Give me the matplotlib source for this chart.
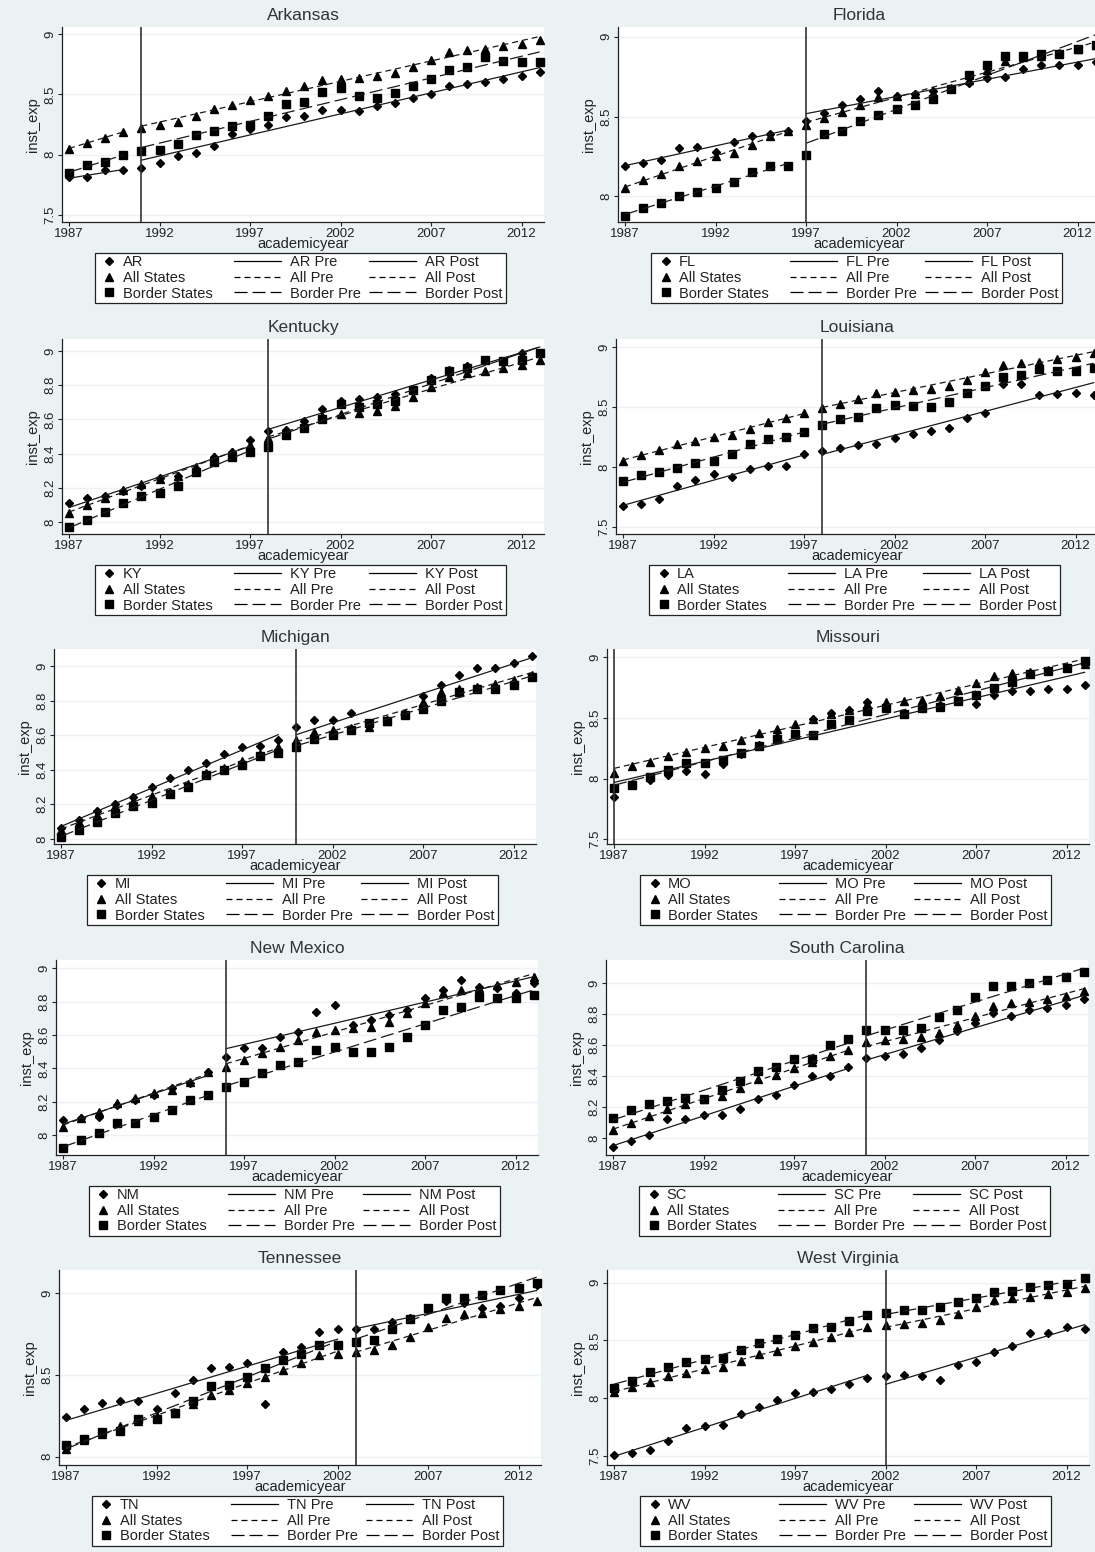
import numpy as np
import matplotlib
matplotlib.use("Agg")
import matplotlib.pyplot as plt
from matplotlib.lines import Line2D
from matplotlib.patches import Rectangle

plt.rcParams["font.family"] = ["Liberation Sans", "DejaVu Sans"]
plt.rcParams["lines.scale_dashes"] = False

# data (log instructional expenditure)
years = list(range(1987, 2014))
all_states = [8.05, 8.10, 8.14, 8.19, 8.22, 8.25, 8.27, 8.32, 8.38, 8.41, 8.45, 8.49, 8.53, 8.57,
              8.62, 8.63, 8.64, 8.65, 8.68, 8.73, 8.79, 8.85, 8.87, 8.88, 8.90, 8.92, 8.95]

ar_state = [7.81, 7.81, 7.87, 7.87, 7.89, 7.93, 7.99, 8.01, 8.07, 8.17, 8.21, 8.25, 8.31, 8.32,
            8.37, 8.37, 8.36, 8.40, 8.43, 8.47, 8.50, 8.57, 8.59, 8.60, 8.63, 8.65, 8.69]
ar_border = [7.85, 7.91, 7.94, 8.00, 8.03, 8.04, 8.09, 8.16, 8.20, 8.24, 8.25, 8.32, 8.42, 8.44,
             8.52, 8.55, 8.49, 8.47, 8.51, 8.57, 8.63, 8.70, 8.73, 8.81, 8.78, 8.77, 8.77]
fl_state = [8.19, 8.21, 8.23, 8.30, 8.31, 8.28, 8.34, 8.38, 8.39, 8.41, 8.47, 8.52, 8.57, 8.61,
            8.66, 8.63, 8.64, 8.66, 8.67, 8.71, 8.74, 8.75, 8.80, 8.82, 8.82, 8.82, 8.84]
fl_border = [7.88, 7.93, 7.96, 8.00, 8.03, 8.05, 8.09, 8.15, 8.19, 8.19, 8.26, 8.39, 8.41, 8.47,
             8.51, 8.55, 8.57, 8.61, 8.67, 8.76, 8.82, 8.88, 8.88, 8.89, 8.89, 8.92, 8.95]
ky_state = [8.11, 8.14, 8.15, 8.18, 8.21, 8.26, 8.27, 8.31, 8.38, 8.41, 8.48, 8.53, 8.54, 8.59,
            8.66, 8.71, 8.72, 8.73, 8.75, 8.78, 8.84, 8.89, 8.91, 8.95, 8.94, 8.99, 8.99]
ky_border = [7.97, 8.01, 8.06, 8.11, 8.15, 8.17, 8.21, 8.29, 8.35, 8.38, 8.41, 8.44, 8.51, 8.55,
             8.60, 8.69, 8.67, 8.69, 8.71, 8.77, 8.83, 8.88, 8.90, 8.95, 8.94, 8.95, 8.99]
la_state = [7.67, 7.69, 7.73, 7.84, 7.89, 7.94, 7.92, 7.98, 8.01, 8.01, 8.11, 8.13, 8.16, 8.18,
            8.19, 8.24, 8.28, 8.30, 8.33, 8.41, 8.45, 8.69, 8.69, 8.60, 8.61, 8.62, 8.60]
la_border = [7.88, 7.93, 7.96, 7.99, 8.03, 8.05, 8.11, 8.19, 8.23, 8.25, 8.29, 8.35, 8.40, 8.42,
             8.49, 8.52, 8.51, 8.50, 8.54, 8.62, 8.68, 8.75, 8.77, 8.82, 8.80, 8.80, 8.83]
mi_state = [8.06, 8.11, 8.16, 8.20, 8.24, 8.30, 8.35, 8.40, 8.44, 8.49, 8.53, 8.54, 8.57, 8.65,
            8.69, 8.69, 8.73, 8.67, 8.69, 8.72, 8.83, 8.89, 8.95, 8.99, 8.99, 9.02, 9.06]
mi_border = [8.01, 8.05, 8.10, 8.15, 8.19, 8.21, 8.26, 8.30, 8.37, 8.40, 8.43, 8.48, 8.50, 8.53,
             8.58, 8.60, 8.63, 8.67, 8.68, 8.72, 8.75, 8.80, 8.85, 8.87, 8.87, 8.89, 8.94]
mo_state = [7.85, 7.95, 7.99, 8.03, 8.06, 8.04, 8.12, 8.20, 8.28, 8.34, 8.37, 8.49, 8.54, 8.57,
            8.63, 8.59, 8.54, 8.58, 8.61, 8.64, 8.62, 8.69, 8.72, 8.72, 8.74, 8.74, 8.77]
mo_border = [7.92, 7.95, 8.01, 8.07, 8.13, 8.13, 8.15, 8.21, 8.27, 8.33, 8.37, 8.36, 8.45, 8.48,
             8.56, 8.58, 8.53, 8.58, 8.59, 8.64, 8.69, 8.75, 8.80, 8.86, 8.89, 8.91, 8.97]
nm_state = [8.09, 8.10, 8.11, 8.18, 8.21, 8.24, 8.28, 8.31, 8.38, 8.47, 8.52, 8.52, 8.59, 8.62,
            8.74, 8.78, 8.66, 8.69, 8.72, 8.75, 8.82, 8.87, 8.93, 8.89, 8.88, 8.85, 8.91]
nm_border = [7.92, 7.97, 8.01, 8.07, 8.07, 8.11, 8.15, 8.21, 8.24, 8.29, 8.32, 8.37, 8.42, 8.44,
             8.51, 8.53, 8.50, 8.50, 8.53, 8.59, 8.66, 8.75, 8.77, 8.83, 8.82, 8.82, 8.84]
sc_state = [7.94, 7.98, 8.02, 8.12, 8.12, 8.15, 8.15, 8.19, 8.25, 8.28, 8.34, 8.40, 8.40, 8.46,
            8.52, 8.53, 8.54, 8.58, 8.63, 8.69, 8.74, 8.81, 8.79, 8.83, 8.84, 8.86, 8.90]
sc_border = [8.13, 8.18, 8.22, 8.24, 8.26, 8.25, 8.31, 8.37, 8.43, 8.46, 8.51, 8.51, 8.60, 8.64,
             8.70, 8.70, 8.70, 8.71, 8.78, 8.83, 8.91, 8.98, 8.98, 9.00, 9.02, 9.04, 9.07]
tn_state = [8.24, 8.29, 8.33, 8.34, 8.34, 8.29, 8.39, 8.47, 8.54, 8.55, 8.57, 8.32, 8.64, 8.67,
            8.76, 8.78, 8.78, 8.78, 8.82, 8.85, 8.91, 8.95, 8.94, 8.91, 8.92, 8.97, 9.05]
tn_border = [8.07, 8.11, 8.15, 8.16, 8.23, 8.23, 8.27, 8.34, 8.43, 8.44, 8.49, 8.54, 8.59, 8.63,
             8.68, 8.68, 8.70, 8.71, 8.78, 8.84, 8.91, 8.97, 8.97, 8.99, 9.02, 9.03, 9.06]
wv_state = [7.51, 7.52, 7.55, 7.63, 7.74, 7.76, 7.77, 7.86, 7.92, 7.98, 8.04, 8.05, 8.08, 8.12,
            8.17, 8.19, 8.20, 8.19, 8.16, 8.29, 8.31, 8.40, 8.45, 8.56, 8.56, 8.62, 8.60]
wv_border = [8.09, 8.15, 8.23, 8.27, 8.31, 8.34, 8.35, 8.42, 8.48, 8.51, 8.55, 8.61, 8.62, 8.67,
             8.72, 8.74, 8.76, 8.76, 8.79, 8.83, 8.87, 8.92, 8.93, 8.96, 8.98, 8.99, 9.04]

titles = ["Arkansas", "Florida", "Kentucky", "Louisiana", "Michigan",
          "Missouri", "New Mexico", "South Carolina", "Tennessee", "West Virginia"]
abbrs = ["AR", "FL", "KY", "LA", "MI", "MO", "NM", "SC", "TN", "WV"]
break_years = [1991, 1997, 1998, 1998, 2000, 1987, 1996, 2001, 2003, 2002]
state_series = [ar_state, fl_state, ky_state, la_state, mi_state,
                mo_state, nm_state, sc_state, tn_state, wv_state]
border_series = [ar_border, fl_border, ky_border, la_border, mi_border,
                 mo_border, nm_border, sc_border, tn_border, wv_border]
yticks = [[7.5, 8, 8.5, 9], [8, 8.5, 9], [8, 8.2, 8.4, 8.6, 8.8, 9], [7.5, 8, 8.5, 9],
          [8, 8.2, 8.4, 8.6, 8.8, 9], [7.5, 8, 8.5, 9], [8, 8.2, 8.4, 8.6, 8.8, 9],
          [8, 8.2, 8.4, 8.6, 8.8, 9], [8, 8.5, 9], [7.5, 8, 8.5, 9]]
ylims = [(7.44, 9.06), (7.84, 9.06), (7.93, 9.07), (7.44, 9.07), (7.97, 9.10),
         (7.46, 9.07), (7.88, 9.05), (7.89, 9.15), (7.95, 9.14), (7.42, 9.11)]

# layout in pixels
W, H = 1095, 1552
BG = "#EAF2F3"
row_off = [0, 312, 622, 933, 1243]
plot_left = [62, 618, 62, 616, 54, 607, 56, 606, 59, 607]
plot_w, plot_h, plot_top = 482, 195, 27
xlim = (1986.61, 1986.61 + plot_w / 18.1)

DASH_ALL = (0, (4.3, 2.9))
DASH_BORDER = (0, (9.4, 3.6))
INK = "#222222"
LEG_FS = 10.5

fig = plt.figure(figsize=(W / 100, H / 100), dpi=100, facecolor=BG)
yrs = np.array(years)
legend_pairs = []

for i in range(10):
    off = row_off[i // 2]
    left = plot_left[i]
    ax = fig.add_axes([left / W, 1 - (off + plot_top + plot_h) / H, plot_w / W, plot_h / H])
    ax.set_facecolor("white")
    for s in ["top", "right"]:
        ax.spines[s].set_visible(False)
    for s in ["left", "bottom"]:
        ax.spines[s].set_color(INK)
        ax.spines[s].set_linewidth(0.9)

    series = [
        (np.array(state_series[i]), "D", 4.0, "-"),
        (np.array(all_states), "^", 5.6, DASH_ALL),
        (np.array(border_series[i]), "s", 5.6, DASH_BORDER),
    ]
    for vals, mk, ms, _ in series:
        ax.plot(yrs, vals, ls="none", marker=mk, ms=ms, color="black", clip_on=False, zorder=3)

    brk = break_years[i]
    pre = yrs < brk
    post = ~pre
    for vals, _, _, ls in series:
        for mask in (pre, post):
            if mask.sum() >= 2:
                coef = np.polyfit(yrs[mask], vals[mask], 1)
                ax.plot(yrs[mask], np.polyval(coef, yrs[mask]), color="#1a1a1a",
                        lw=0.9, linestyle=ls, zorder=4)

    ax.axvline(brk, color="#333333", lw=1.2, zorder=5)

    ax.set_xlim(*xlim)
    ax.set_ylim(*ylims[i])
    ax.set_xticks(range(1987, 2013, 5))
    ax.set_yticks(yticks[i])
    ax.set_yticklabels(["%g" % v for v in yticks[i]], rotation=90, va="center")
    ax.yaxis.grid(True, color=BG, lw=1.0)
    ax.set_axisbelow(True)
    ax.tick_params(axis="both", colors=INK, labelsize=9.5, length=3, width=0.8, pad=1)
    ax.set_xlabel("academicyear", fontsize=10.5, color=INK, labelpad=-2)
    ax.set_ylabel("inst_exp", fontsize=10.5, color=INK, labelpad=3)
    ax.set_title(titles[i], fontsize=12.5, color="#333333", pad=5)

    # legend: marker column + two line columns, framed together
    ab = abbrs[i]
    mk_handles = [
        Line2D([], [], ls="none", marker="D", ms=4.0, color="black"),
        Line2D([], [], ls="none", marker="^", ms=5.6, color="black"),
        Line2D([], [], ls="none", marker="s", ms=5.6, color="black"),
    ]
    ln_handles = [
        Line2D([], [], ls="-", lw=0.9, color="black"),
        Line2D([], [], ls=DASH_ALL, lw=0.9, color="black"),
        Line2D([], [], ls=DASH_BORDER, lw=0.9, color="black"),
        Line2D([], [], ls="-", lw=0.9, color="black"),
        Line2D([], [], ls=DASH_ALL, lw=0.9, color="black"),
        Line2D([], [], ls=DASH_BORDER, lw=0.9, color="black"),
    ]
    mk_labels = [ab, "All States", "Border States"]
    ln_labels = [ab + " Pre", "All Pre", "Border Pre", ab + " Post", "All Post", "Border Post"]
    common = dict(frameon=False, fontsize=LEG_FS, borderpad=0, borderaxespad=0,
                  labelspacing=0.12, numpoints=1)
    cx = left + plot_w / 2
    top = 1 - (off + 255) / H
    split = cx - 100
    leg_a = fig.legend(mk_handles, mk_labels, loc="upper right",
                       bbox_to_anchor=(split / W, top), handlelength=0.8,
                       handletextpad=0.5, **common)
    leg_b = fig.legend(ln_handles, ln_labels, ncol=2, loc="upper left",
                       bbox_to_anchor=((split + 22) / W, top), handlelength=3.2,
                       handletextpad=0.6, columnspacing=0.6, **common)
    for lg in (leg_a, leg_b):
        lg.set_zorder(6)
        for t in lg.get_texts():
            t.set_color(INK)
    legend_pairs.append((leg_a, leg_b, cx, split, top))

# centre each legend pair under its plot and frame it
fig.canvas.draw()
rend = fig.canvas.get_renderer()
for leg_a, leg_b, cx, split, top in legend_pairs:
    ea = leg_a.get_window_extent(rend)
    eb = leg_b.get_window_extent(rend)
    x0, x1 = min(ea.x0, eb.x0), max(ea.x1, eb.x1)
    shift = cx - (x0 + x1) / 2
    leg_a.set_bbox_to_anchor(((split + shift) / W, top), transform=fig.transFigure)
    leg_b.set_bbox_to_anchor(((split + 22 + shift) / W, top), transform=fig.transFigure)
    y0, y1 = min(ea.y0, eb.y0), max(ea.y1, eb.y1)
    bx0, bx1 = x0 + shift - 9, x1 + shift + 4
    by0, by1 = y0 - 2, y1 + 2
    fig.patches.append(Rectangle((bx0 / W, by0 / H), (bx1 - bx0) / W, (by1 - by0) / H,
                                 transform=fig.transFigure, facecolor="white",
                                 edgecolor=INK, lw=0.9, zorder=2))

fig.savefig("out.png", dpi=100, facecolor=BG)
